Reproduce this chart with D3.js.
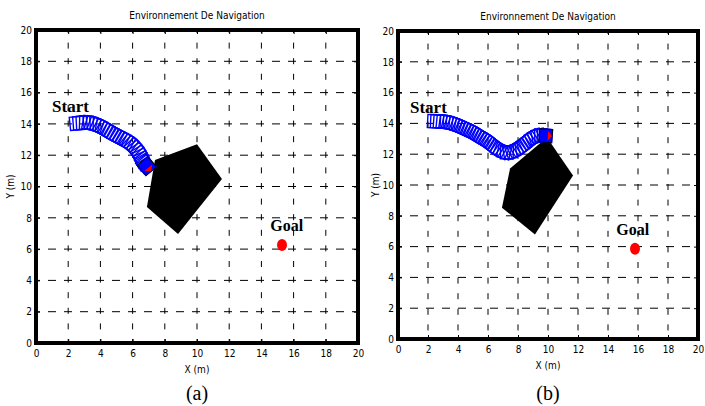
<!DOCTYPE html>
<html>
<head>
<meta charset="utf-8">
<script src="https://cdn.jsdelivr.net/npm/d3@7"></script>
<style>
  body { margin: 0; background: #fff; }
  svg  { display: block; }
</style>
</head>
<body>
<script>
// axis ticks and texts
var x_ticks    = [0, 2, 4, 6, 8, 10, 12, 14, 16, 18, 20];
var y_ticks    = [0, 2, 4, 6, 8, 10, 12, 14, 16, 18, 20];
var title_text = "Environnement De Navigation";
var x_label    = "X (m)";
var y_label    = "Y (m)";
var captions   = ["(a)", "(b)"];

// (a) robot footprints along the path (metres)
var path_a_x = [2.53, 2.73, 2.93, 3.13, 3.33, 3.52, 3.71, 3.89, 4.07, 4.25, 4.42, 4.59, 4.76, 4.94,
                5.11, 5.29, 5.46, 5.63, 5.79, 5.94, 6.08, 6.21, 6.32, 6.43, 6.52, 6.60, 6.68, 6.78, 6.88];
var path_a_y = [14.04, 14.06, 14.07, 14.08, 14.06, 14.01, 13.95, 13.88, 13.79, 13.69, 13.59, 13.49, 13.39, 13.29,
                13.20, 13.10, 13.00, 12.91, 12.80, 12.67, 12.54, 12.39, 12.23, 12.07, 11.90, 11.72, 11.55, 11.42, 11.30];
var obstacle_a_x = [7.39, 10.0, 11.55, 8.82, 6.89];
var obstacle_a_y = [11.69, 12.7, 10.48, 6.96, 8.69];
var goal_a = [15.28, 6.26];

// (b)
var path_b_x = [2.40, 2.60, 2.80, 3.00, 3.20, 3.40, 3.59, 3.78, 3.97, 4.15, 4.33, 4.51, 4.69, 4.87,
                5.04, 5.21, 5.38, 5.55, 5.72, 5.89, 6.05, 6.21, 6.37, 6.53, 6.70, 6.88, 7.07, 7.26,
                7.46, 7.65, 7.83, 8.00, 8.16, 8.33, 8.49, 8.65, 8.81, 8.98, 9.16, 9.35, 9.54, 9.72, 9.85];
var path_b_y = [14.14, 14.13, 14.12, 14.10, 14.08, 14.04, 13.99, 13.93, 13.86, 13.79, 13.71, 13.63, 13.55, 13.47,
                13.38, 13.28, 13.18, 13.08, 12.98, 12.88, 12.77, 12.65, 12.53, 12.42, 12.31, 12.22, 12.15, 12.12,
                12.14, 12.19, 12.27, 12.37, 12.48, 12.59, 12.71, 12.83, 12.95, 13.06, 13.14, 13.20, 13.22, 13.21, 13.20];
var obstacle_b_x = [7.47, 9.93, 11.67, 9.13, 6.93];
var obstacle_b_y = [11.07, 13.09, 10.62, 6.78, 8.53];
var goal_b = [15.8, 5.86];

var robot_size = 0.85;

var panels = [
  { left: 36,  right: 358, top: 30, bottom: 343, px: path_a_x, py: path_a_y,
    ox: obstacle_a_x, oy: obstacle_a_y, goal: goal_a, caption: captions[0],
    start_at: [1.0, 14.76], goal_at: [14.55, 7.16], ylab_x: 14 },
  { left: 398, right: 698, top: 31, bottom: 339, px: path_b_x, py: path_b_y,
    ox: obstacle_b_x, oy: obstacle_b_y, goal: goal_b, caption: captions[1],
    start_at: [0.8, 14.66], goal_at: [14.55, 6.78], ylab_x: 379 }
];

var svg = d3.select("body").append("svg")
            .attr("width", 705)
            .attr("height", 406);

var sans   = "'Liberation Sans Narrow', 'DejaVu Sans Condensed', 'Liberation Sans', sans-serif";
var serif  = "'Liberation Serif', 'Times New Roman', serif";

panels.forEach(drawPanel);

function drawPanel(p) {
  var x = d3.scaleLinear().domain([0, 20]).range([p.left, p.right]);
  var y = d3.scaleLinear().domain([0, 20]).range([p.bottom, p.top]);
  var g = svg.append("g");
  var inner = x_ticks.slice(1, -1);

  // dashed grid
  g.selectAll(".vgrid").data(inner).enter().append("line")
   .attr("x1", function(d) { return x(d); }).attr("x2", function(d) { return x(d); })
   .attr("y1", p.top).attr("y2", p.bottom)
   .attr("stroke", "#000").attr("stroke-width", 1)
   .attr("stroke-dasharray", "6,9.6").attr("stroke-dashoffset", 3);
  g.selectAll(".hgrid").data(y_ticks.slice(1, -1)).enter().append("line")
   .attr("y1", function(d) { return y(d); }).attr("y2", function(d) { return y(d); })
   .attr("x1", p.left).attr("x2", p.right)
   .attr("stroke", "#000").attr("stroke-width", 1)
   .attr("stroke-dasharray", "8,8").attr("stroke-dashoffset", 4);

  // axes with inward ticks
  g.append("g").attr("transform", "translate(0," + p.bottom + ")")
   .call(d3.axisBottom(x).tickValues(x_ticks).tickSize(-4).tickPadding(7));
  g.append("g").attr("transform", "translate(" + p.left + ",0)")
   .call(d3.axisLeft(y).tickValues(y_ticks).tickSize(-4).tickPadding(4));
  g.append("g").attr("transform", "translate(0," + p.top + ")")
   .call(d3.axisTop(x).tickValues(x_ticks).tickSize(-4).tickFormat(""));
  g.append("g").attr("transform", "translate(" + p.right + ",0)")
   .call(d3.axisRight(y).tickValues(y_ticks).tickSize(-4).tickFormat(""));
  g.selectAll(".domain").remove();
  g.selectAll(".tick line").attr("stroke", "#000");
  g.selectAll(".tick text").attr("font-family", sans).attr("font-size", 10).attr("fill", "#000");

  // obstacle
  var pts = p.ox.map(function(d, i) { return [x(d), y(p.oy[i])]; });
  g.append("path")
   .attr("d", d3.line()(pts) + "Z")
   .attr("fill", "#000");

  // robot footprints
  var h = robot_size / 2;
  function heading(i) {
    var a = Math.max(0, i - 1), b = Math.min(p.px.length - 1, i + 1);
    return Math.atan2(p.py[b] - p.py[a], p.px[b] - p.px[a]);
  }
  function corners(i, local) {
    var th = heading(i), c = Math.cos(th), s = Math.sin(th);
    return local.map(function(q) {
      return [x(p.px[i] + q[0] * c - q[1] * s), y(p.py[i] + q[0] * s + q[1] * c)];
    });
  }
  var square = [[-h, -h], [h, -h], [h, h], [-h, h]];
  g.selectAll(".foot").data(p.px).enter().append("path")
   .attr("d", function(d, i) { return d3.line()(corners(i, square)) + "Z"; })
   .attr("fill", "none")
   .attr("stroke", "#0000ff")
   .attr("stroke-width", 1.4);

  var last = p.px.length - 1;
  g.append("path")
   .attr("d", d3.line()(corners(last, square)) + "Z")
   .attr("fill", "#0000ff").attr("stroke", "#000").attr("stroke-width", 1);
  g.append("path")
   .attr("d", d3.line()(corners(last, [[h, 0], [h / 3, h * 0.75], [h / 3, -h * 0.75]])) + "Z")
   .attr("fill", "#ff0000");

  // goal
  g.append("ellipse")
   .attr("cx", x(p.goal[0])).attr("cy", y(p.goal[1]))
   .attr("rx", 5).attr("ry", 6)
   .attr("fill", "#ff0000");

  // annotations
  g.append("text").attr("x", x(p.start_at[0])).attr("y", y(p.start_at[1]))
   .attr("font-family", serif).attr("font-weight", "bold").attr("font-size", 17)
   .text("Start");
  g.append("text").attr("x", x(p.goal_at[0])).attr("y", y(p.goal_at[1]))
   .attr("font-family", serif).attr("font-weight", "bold").attr("font-size", 16)
   .text("Goal");

  // frame
  g.append("rect")
   .attr("x", p.left).attr("y", p.top)
   .attr("width", p.right - p.left).attr("height", p.bottom - p.top)
   .attr("fill", "none").attr("stroke", "#000").attr("stroke-width", 4);

  var cx = (p.left + p.right) / 2;
  g.append("text").attr("x", cx).attr("y", p.top - 11)
   .attr("text-anchor", "middle").attr("font-family", sans).attr("font-size", 10)
   .text(title_text);
  g.append("text").attr("x", cx).attr("y", p.bottom + 30)
   .attr("text-anchor", "middle").attr("font-family", sans).attr("font-size", 10)
   .text(x_label);
  g.append("text")
   .attr("transform", "translate(" + p.ylab_x + "," + ((p.top + p.bottom) / 2) + ") rotate(-90)")
   .attr("text-anchor", "middle").attr("font-family", sans).attr("font-size", 10)
   .text(y_label);
  g.append("text").attr("x", cx).attr("y", 400)
   .attr("text-anchor", "middle").attr("font-family", serif).attr("font-size", 20)
   .text(p.caption);
}
</script>
</body>
</html>
